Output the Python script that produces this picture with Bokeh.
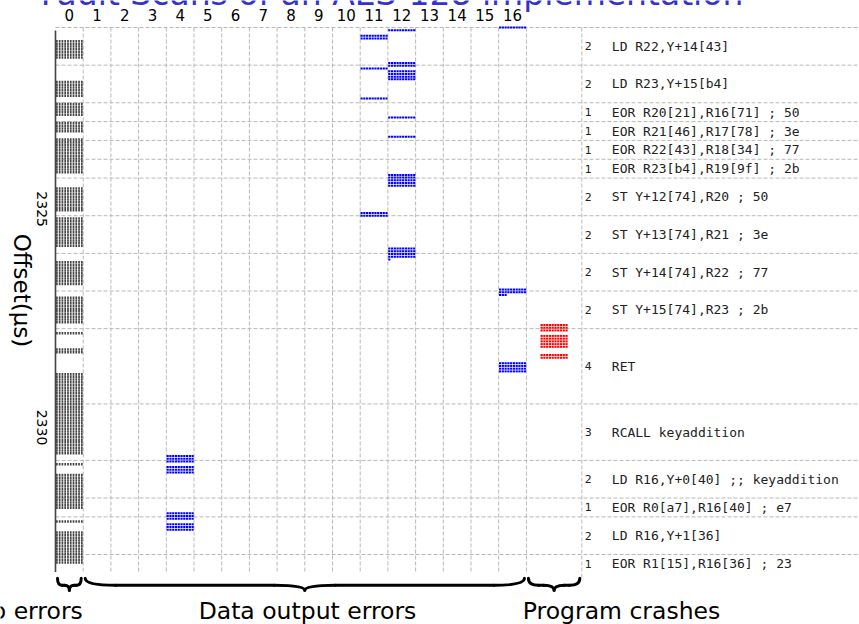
import math
import numpy as np
from bokeh.plotting import figure
from bokeh.models import Range1d, ColumnDataSource
from bokeh.core.properties import value
from bokeh.embed import file_html
from bokeh.resources import INLINE

# ---------------- data ----------------
TITLE = "Fault Scans of an AES-128 implementation"
Y_LABEL = "Offset(µs)"
columns = list(range(17))
col_labels = [str(c) for c in columns]
crash_col = 17.5
y_ticks = [2325, 2330]

instr_text = [
    "LD R22,Y+14[43]",
    "LD R23,Y+15[b4]",
    "EOR R20[21],R16[71] ; 50",
    "EOR R21[46],R17[78] ; 3e",
    "EOR R22[43],R18[34] ; 77",
    "EOR R23[b4],R19[9f] ; 2b",
    "ST Y+12[74],R20 ; 50",
    "ST Y+13[74],R21 ; 3e",
    "ST Y+14[74],R22 ; 77",
    "ST Y+15[74],R23 ; 2b",
    "RET",
    "RCALL keyaddition",
    "LD R16,Y+0[40] ;; keyaddition",
    "EOR R0[a7],R16[40] ; e7",
    "LD R16,Y+1[36]",
    "EOR R1[15],R16[36] ; 23",
]
instr_cycles = [2, 2, 1, 1, 1, 1, 2, 2, 2, 2, 4, 3, 2, 1, 2, 1]

t_first = 2321.0      # µs, first offset of the scan
cycle_us = 0.4310     # µs per clock cycle
step_us = 0.0625      # µs between scanned offsets
reps = 10             # shots per offset

# column 0 : no error (offset ranges, µs)
ok_start = [2321.31, 2322.25, 2322.69, 2323.13, 2323.54, 2324.66, 2325.35, 2326.36,
            2327.15, 2327.99, 2328.37, 2328.92, 2330.98, 2331.24, 2332.29, 2332.54]
ok_end = [2321.72, 2322.58, 2323.02, 2323.43, 2324.32, 2325.19, 2326.04, 2326.91,
          2327.78, 2328.01, 2328.47, 2330.78, 2331.05, 2332.06, 2332.36, 2333.27]

# data output errors : byte column, offset range (µs), shots hit
err_col = [16, 12, 11, 12, 11, 12, 11, 12, 12, 12, 11, 12, 12, 16, 16, 16, 4, 4, 4, 4]
err_start = [2321.00, 2321.05, 2321.14, 2321.76, 2321.93, 2322.00, 2322.62, 2323.04,
             2323.47, 2324.34, 2325.21, 2326.05, 2326.30, 2326.96, 2327.10, 2328.65,
             2330.81, 2331.06, 2332.10, 2332.37]
err_end = [2321.02, 2321.11, 2321.28, 2321.89, 2321.97, 2322.24, 2322.67, 2323.09,
           2323.53, 2324.66, 2325.34, 2326.26, 2326.32, 2327.08, 2327.13, 2328.89,
           2330.96, 2331.21, 2332.25, 2332.50]
err_hits = [10, 10, 10, 10, 10, 10, 10, 10, 10, 10, 10, 10, 1, 10, 3, 10, 10, 10, 10, 10]

# program crashes
crash_start = [2327.79, 2328.04, 2328.50]
crash_end = [2327.94, 2328.37, 2328.60]

groups = ["No errors", "Data output errors", "Program crashes"]
group_lo = [-0.5, 0.5, 16.5]
group_hi = [0.5, 16.5, 18.5]

# ---------------- layout constants ----------------
W, H = 859, 624
px_col = 27.7
px_us = 43.67
left_px, top_px = 55, 27


def X(px):
    return -0.5 + (px - left_px) / px_col


def Y(px):
    return t_first + (px - top_px) / px_us


t_end = t_first + sum(instr_cycles) * cycle_us

p = figure(width=W, height=H, output_backend="svg", toolbar_location=None,
           x_range=Range1d(X(0), X(W)), y_range=Range1d(Y(H), Y(0)),
           x_axis_type=None, y_axis_type=None,
           min_border_left=0, min_border_right=0, min_border_top=0, min_border_bottom=0)
p.outline_line_color = None
p.grid.visible = False
p.background_fill_color = "white"
p.border_fill_color = "white"


def dots(col_list, s_list, e_list, n_list):
    xs, ys = [], []
    for c, a, b, n in zip(col_list, s_list, e_list, n_list):
        k0 = math.ceil((a - t_first) / step_us - 1e-9)
        k1 = math.floor((b - t_first) / step_us + 1e-9)
        for k in range(k0, k1 + 1):
            for i in range(n):
                xs.append(c - 0.5 + (i + 0.5) / reps)
                ys.append(t_first + k * step_us)
    return xs, ys


# grid lines
bounds = np.cumsum([0] + instr_cycles)
h_lines = [t_first + b * cycle_us for b in bounds[:-1]]
p.segment(x0=[-0.5] * len(h_lines), y0=h_lines, x1=[X(W)] * len(h_lines), y1=h_lines,
          line_color="#b8b8b8", line_width=1, line_dash="4 2")
v_lines = [c + 0.5 for c in columns]
p.segment(x0=v_lines, y0=[t_first] * len(v_lines), x1=v_lines, y1=[t_end] * len(v_lines),
          line_color="#b8b8b8", line_width=1, line_dash="4 2")
p.segment(x0=[group_hi[-1]], y0=[t_first], x1=[group_hi[-1]], y1=[t_end + 4 / px_us],
          line_color="#b8b8b8", line_width=1, line_dash="4 2")

# spine
p.segment(x0=[-0.5], y0=[t_first + 0.07], x1=[-0.5], y1=[t_end - 0.03],
          line_color="#444444", line_width=1.6)

# points
gx, gy = dots([0] * len(ok_start), ok_start, ok_end, [reps] * len(ok_start))
p.rect(gx, gy, width=1.7, height=2.5, width_units="screen", height_units="screen",
       fill_color="#454545", line_color=None)
bx, by = dots(err_col, err_start, err_end, err_hits)
p.rect(bx, by, width=2.2, height=2.0, width_units="screen", height_units="screen",
       fill_color="#0000ff", line_color=None)
rx, ry = dots([crash_col] * len(crash_start), crash_start, crash_end, [reps] * len(crash_start))
p.rect(rx, ry, width=2.2, height=2.0, width_units="screen", height_units="screen",
       fill_color="#ff0000", line_color=None)

# instruction annotations
centers = [t_first + (bounds[i] + instr_cycles[i] / 2) * cycle_us for i in range(len(instr_cycles))]
src = ColumnDataSource(dict(y=centers, cyc=[str(c) for c in instr_cycles], txt=instr_text,
                            xc=[group_hi[-1] + 3 / px_col] * len(centers),
                            xt=[group_hi[-1] + 30 / px_col] * len(centers)))
p.text(x="xc", y="y", text="cyc", source=src, text_font=value("DejaVu Sans"),
       text_font_size="11px", text_baseline="middle", text_align="left", text_color="#222222")
p.text(x="xt", y="y", text="txt", source=src, text_font=value("DejaVu Sans Mono"),
       text_font_size="13px", text_baseline="middle", text_align="left", text_color="#222222")

# column labels (top) and offset ticks (left)
p.text(x=columns, y=[Y(14)] * len(columns), text=col_labels, text_font=value("DejaVu Sans"),
       text_font_size="15px", text_align="center", text_baseline="middle", text_color="black")
p.text(x=[X(41)] * len(y_ticks), y=[t + 7 / px_us for t in y_ticks], text=[str(t) for t in y_ticks],
       text_font=value("DejaVu Sans"), text_font_size="14px", angle=-math.pi / 2,
       text_align="center", text_baseline="middle", text_color="black")
p.text(x=[X(21)], y=[Y(290)], text=[Y_LABEL], text_font=value("DejaVu Sans"),
       text_font_size="23px", angle=-math.pi / 2, text_align="center", text_baseline="middle",
       text_color="black")

# title (partly above the page)
p.text(x=[X(391.5)], y=[Y(-7.5)], text=[TITLE], text_font=value("DejaVu Sans"),
       text_font_size="33px", text_align="center", text_baseline="middle", text_color="#3333cc")

# braces
ya, yb, yc = t_end + 5 / px_us, t_end + 12 / px_us, t_end + 17 / px_us
inset = 2 / px_col
qx0, qy0, qx1, qy1, qcx, qcy = [], [], [], [], [], []
sx0, sy0, sx1, sy1 = [], [], [], []
for lo, hi in zip(group_lo, group_hi):
    lo, hi = lo + inset, hi - inset
    mid = (lo + hi) / 2
    q = min(1.1, 0.2 * (hi - lo))
    for (ax, ay, bx_, by_, cx, cy) in [
        (lo, ya, lo + q, yb, lo, yb),
        (mid - q, yb, mid, yc, mid, yb),
        (mid, yc, mid + q, yb, mid, yb),
        (hi - q, yb, hi, ya, hi, yb),
    ]:
        qx0.append(ax); qy0.append(ay); qx1.append(bx_); qy1.append(by_)
        qcx.append(cx); qcy.append(cy)
    sx0 += [lo + q, mid + q]; sx1 += [mid - q, hi - q]
    sy0 += [yb, yb]; sy1 += [yb, yb]
p.quadratic(x0=qx0, y0=qy0, x1=qx1, y1=qy1, cx=qcx, cy=qcy,
            line_color="black", line_width=3, line_cap="round")
p.segment(x0=sx0, y0=sy0, x1=sx1, y1=sy1, line_color="black", line_width=3, line_cap="round")

label_x = [X(28), X(307), X(621)]
p.text(x=label_x, y=[Y(610)] * 3, text=groups, text_font=value("DejaVu Sans"),
       text_font_size="23.5px", text_align="center", text_baseline="middle", text_color="black")

open("out.html", "w").write(file_html(p, INLINE))
